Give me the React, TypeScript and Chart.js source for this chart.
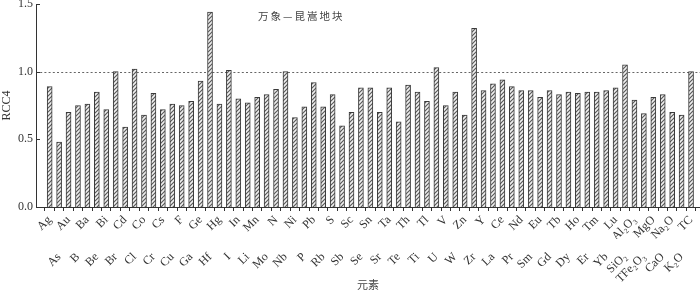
import { useEffect, useRef } from 'react';
import { Chart, registerables } from 'chart.js';

Chart.register(...registerables);

const elements = [
  'Ag', 'As', 'Au', 'B', 'Ba', 'Be', 'Bi', 'Br', 'Cd', 'Cl', 'Co', 'Cr', 'Cs', 'Cu', 'F', 'Ga', 'Ge', 'Hf',
  'Hg', 'I', 'In', 'Li', 'Mn', 'Mo', 'N', 'Nb', 'Ni', 'P', 'Pb', 'Rb', 'S', 'Sb', 'Sc', 'Se', 'Sn', 'Sr',
  'Ta', 'Te', 'Th', 'Ti', 'Tl', 'U', 'V', 'W', 'Zn', 'Zr', 'Y', 'La', 'Ce', 'Pr', 'Nd', 'Sm', 'Eu', 'Gd',
  'Tb', 'Dy', 'Ho', 'Er', 'Tm', 'Yb', 'Lu', 'SiO₂', 'Al₂O₃', 'TFe₂O₃', 'MgO', 'CaO', 'Na₂O', 'K₂O', 'TC',
];

const rcc4 = [
  0.89, 0.48, 0.70, 0.75, 0.76, 0.85, 0.72, 1.00, 0.59, 1.02, 0.68, 0.84, 0.72, 0.76, 0.75, 0.78, 0.93, 1.44,
  0.76, 1.01, 0.80, 0.77, 0.81, 0.83, 0.87, 1.00, 0.66, 0.74, 0.92, 0.74, 0.83, 0.60, 0.70, 0.88, 0.88, 0.70,
  0.88, 0.63, 0.90, 0.85, 0.78, 1.03, 0.75, 0.85, 0.68, 1.32, 0.86, 0.91, 0.94, 0.89, 0.86, 0.86, 0.81, 0.86,
  0.83, 0.85, 0.84, 0.85, 0.85, 0.86, 0.88, 1.05, 0.79, 0.69, 0.81, 0.83, 0.70, 0.68, 1.00,
];

const yTickValues = [0, 0.5, 1.0, 1.5];
const referenceLevel = 1.0;
const blockTitle = '万象—昆嵩地块';
const yAxisTitle = 'RCC4';
const xAxisTitle = '元素';

const serif = '"Liberation Serif", "DejaVu Serif", serif';
const cjk = '"Noto Sans CJK SC", sans-serif';

function makeHatch(ctx: CanvasRenderingContext2D) {
  const c = document.createElement('canvas');
  c.width = 4;
  c.height = 4;
  const g = c.getContext('2d')!;
  g.fillStyle = '#f0f0f0';
  g.fillRect(0, 0, 4, 4);
  g.strokeStyle = '#5a5a5a';
  g.lineWidth = 1.2;
  g.beginPath();
  g.moveTo(-1, 5);
  g.lineTo(5, -1);
  g.moveTo(-1, 1);
  g.lineTo(1, -1);
  g.moveTo(3, 5);
  g.lineTo(5, 3);
  g.stroke();
  return ctx.createPattern(c, 'repeat');
}

const decorPlugin = {
  id: 'decor',
  afterDraw(chart: any) {
    const { ctx, chartArea, scales } = chart;
    const y = scales.y;
    ctx.save();
    ctx.strokeStyle = '#333';
    ctx.lineWidth = 1;
    yTickValues.forEach((v) => {
      const py = Math.round(y.getPixelForValue(v)) + 0.5;
      ctx.beginPath();
      ctx.moveTo(chartArea.left, py);
      ctx.lineTo(chartArea.left + 4, py);
      ctx.stroke();
    });
    ctx.fillStyle = '#444';
    ctx.font = `10.5px ${cjk}`;
    (ctx as any).letterSpacing = '2px';
    ctx.textAlign = 'left';
    ctx.textBaseline = 'middle';
    ctx.fillText(blockTitle, 258, 16);
    ctx.restore();
  },
  beforeDatasetsDraw(chart: any) {
    const { ctx, chartArea, scales } = chart;
    const py = Math.round(scales.y.getPixelForValue(referenceLevel)) + 0.5;
    ctx.save();
    ctx.strokeStyle = '#666';
    ctx.lineWidth = 1;
    ctx.setLineDash([2, 2.2]);
    ctx.beginPath();
    ctx.moveTo(chartArea.left, py);
    ctx.lineTo(chartArea.right, py);
    ctx.stroke();
    ctx.restore();
  },
};

export default function App() {
  const ref = useRef<HTMLCanvasElement>(null);

  useEffect(() => {
    const canvas = ref.current!;
    const ctx = canvas.getContext('2d')!;
    const hatch = makeHatch(ctx);
    const idx = elements.map((_, i) => i);
    const xMin = -0.94;
    const xMax = elements.length - 1 + 0.44;

    const xCommon = {
      type: 'linear' as const,
      position: 'bottom' as const,
      min: xMin,
      max: xMax,
      afterBuildTicks: (s: any) => {
        s.ticks = idx.map((i) => ({ value: i }));
      },
    };

    const chart = new Chart(ctx, {
      type: 'bar',
      data: {
        datasets: [
          {
            data: rcc4.map((v, i) => ({ x: i, y: v })),
            backgroundColor: hatch as any,
            borderColor: '#3a3a3a',
            borderWidth: 1,
            barThickness: 5,
            xAxisID: 'x',
            yAxisID: 'y',
          },
        ],
      },
      plugins: [decorPlugin],
      options: {
        animation: false,
        responsive: true,
        maintainAspectRatio: false,
        layout: { padding: { top: 4, right: 0, bottom: 0, left: 0 } },
        plugins: { legend: { display: false }, tooltip: { enabled: false }, title: { display: false } },
        scales: {
          x: {
            ...xCommon,
            afterFit: (s: any) => {
              s.height = 32;
              s.paddingLeft = 0;
              s.paddingRight = 0;
            },
            grid: { drawOnChartArea: false, drawTicks: true, tickLength: 4, color: '#333', tickColor: '#333' },
            border: { display: true, color: '#333', width: 1 },
            ticks: {
              autoSkip: false,
              minRotation: 45,
              maxRotation: 45,
              padding: 2,
              color: '#333',
              font: { family: serif, size: 12 },
              callback: (_v: any, i: number) => (i % 2 === 0 ? elements[i] : ''),
            },
          },
          x2: {
            ...xCommon,
            afterFit: (s: any) => {
              s.height = 54;
              s.paddingLeft = 0;
              s.paddingRight = 0;
            },
            grid: { display: false },
            border: { display: false },
            ticks: {
              autoSkip: false,
              minRotation: 45,
              maxRotation: 45,
              padding: 3,
              color: '#333',
              font: { family: serif, size: 12 },
              callback: (_v: any, i: number) => (i % 2 === 1 ? elements[i] : ''),
            },
            title: {
              display: true,
              text: xAxisTitle,
              color: '#444',
              font: { family: cjk, size: 11 },
              padding: { top: 0, bottom: 2 },
            },
          },
          y: {
            type: 'linear',
            min: 0,
            max: 1.5,
            afterBuildTicks: (s: any) => {
              s.ticks = yTickValues.map((v) => ({ value: v }));
            },
            afterFit: (s: any) => {
              s.width = 36;
              s.paddingTop = 0;
              s.paddingBottom = 0;
            },
            grid: { display: false, drawTicks: false },
            border: { display: true, color: '#333', width: 1 },
            ticks: {
              padding: 3,
              color: '#333',
              font: { family: serif, size: 12, lineHeight: 1 },
              callback: (v: any) => Number(v).toFixed(1),
            },
            title: {
              display: true,
              text: yAxisTitle,
              color: '#333',
              font: { family: serif, size: 12 },
              padding: 0,
            },
          },
        },
      },
    });
    return () => chart.destroy();
  }, []);

  return (
    <div style={{ position: 'absolute', left: 0, top: 0, width: 700, height: 293 }}>
      <canvas ref={ref} />
    </div>
  );
}
